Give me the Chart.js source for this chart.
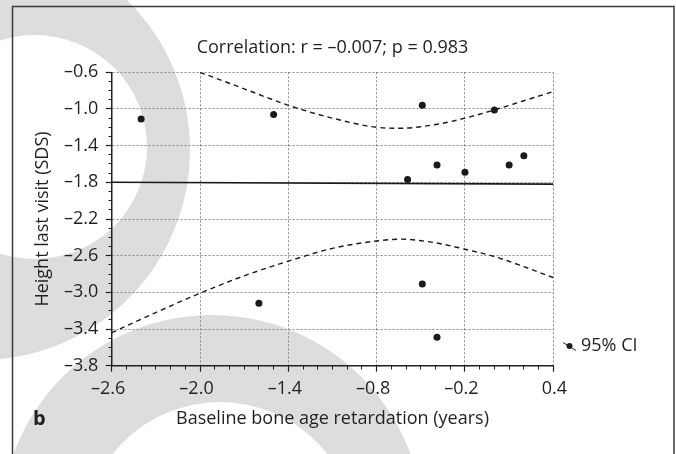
<!DOCTYPE html>
<html>
<head>
<meta charset="utf-8">
<script src="https://cdn.jsdelivr.net/npm/chart.js@4.4.1/dist/chart.umd.min.js"></script>
<style>
  html, body { margin: 0; padding: 0; background: #fff; }
  #wrap { width: 676px; height: 454px; }
</style>
</head>
<body>
<div id="wrap"><canvas id="chart" width="676" height="454"></canvas></div>
<script>
// values
const boneAgeX = [-2.40, -1.50, -1.60, -0.49, -0.49, -0.59, -0.39, -0.39, -0.20, 0.00, 0.10, 0.20];
const heightY  = [-1.11, -1.06, -3.12, -0.96, -2.91, -1.77, -1.61, -3.49, -1.69, -1.01, -1.61, -1.51];

const fitX = [-2.6, 0.4];
const fitY = [-1.80, -1.82];

const upperX = [-2.0, -1.7, -1.4, -1.1, -0.8, -0.64, -0.4, -0.2, 0.0, 0.2, 0.4];
const upperY = [-0.60, -0.78, -0.96, -1.10, -1.20, -1.21, -1.17, -1.10, -1.01, -0.91, -0.81];

const lowerX = [-2.6, -2.3, -2.0, -1.7, -1.4, -1.1, -0.8, -0.64, -0.4, -0.2, 0.0, 0.2, 0.4];
const lowerY = [-3.44, -3.22, -3.01, -2.82, -2.66, -2.52, -2.44, -2.42, -2.46, -2.53, -2.61, -2.72, -2.84];

const xTicks = [-2.6, -2.0, -1.4, -0.8, -0.2, 0.4];
const yTicks = [-3.8, -3.4, -3.0, -2.6, -2.2, -1.8, -1.4, -1.0, -0.6];

const titleText = 'Correlation: r = –0.007; p = 0.983';
const xTitle = 'Baseline bone age retardation (years)';
const yTitle = 'Height last visit (SDS)';
const legendText = '95% CI';
const panelLabel = 'b';

const FONT = '"Open Sans"';
const INK = '#231f20';

function pairs(xs, ys) {
    return xs.map((x, i) => ({ x: x, y: ys[i] }));
}

function fmt(v) {
    return v.toFixed(1).replace('-', '–');
}

// grey print decoration, frame, panel letter and the CI key
const pagePlugin = {
    id: 'page',
    beforeDraw(chart) {
        const ctx = chart.ctx;
        ctx.save();
        ctx.fillStyle = '#fff';
        ctx.fillRect(0, 0, chart.width, chart.height);
        ctx.fillStyle = '#dcdddf';
        ctx.beginPath();
        ctx.arc(-20, 150, 210, 0, Math.PI * 2);
        ctx.arc(35, 147, 112, 0, Math.PI * 2);
        ctx.fill('evenodd');
        ctx.beginPath();
        ctx.arc(212, 526, 211, 0, Math.PI * 2);
        ctx.arc(220, 539, 137, 0, Math.PI * 2);
        ctx.fill('evenodd');
        ctx.restore();
    },
    afterDraw(chart) {
        const ctx = chart.ctx;
        ctx.save();
        ctx.strokeStyle = '#3a3a3a';
        ctx.lineWidth = 1.5;
        ctx.beginPath();
        ctx.moveTo(12.5, 460);
        ctx.lineTo(12.5, 6.5);
        ctx.lineTo(674, 6.5);
        ctx.lineTo(674, 460);
        ctx.stroke();

        ctx.fillStyle = INK;
        ctx.font = 'bold 20px ' + FONT;
        ctx.textBaseline = 'middle';
        ctx.fillText(panelLabel, 33, 419);

        // CI key
        ctx.strokeStyle = INK;
        ctx.lineWidth = 1;
        ctx.beginPath();
        ctx.moveTo(563, 342.5);
        ctx.lineTo(576, 350.5);
        ctx.stroke();
        ctx.beginPath();
        ctx.arc(569.5, 346, 3, 0, Math.PI * 2);
        ctx.fill();
        ctx.font = '18px ' + FONT;
        ctx.fillText(legendText, 581, 346);
        ctx.restore();
    }
};

const gridColor = '#8a8a8a';

new Chart(document.getElementById('chart'), {
    type: 'scatter',
    data: {
        datasets: [
            {
                label: 'Patients',
                data: pairs(boneAgeX, heightY),
                backgroundColor: '#1a1a1a',
                borderWidth: 0,
                pointRadius: 3.5,
                order: 0
            },
            {
                label: 'Regression',
                data: pairs(fitX, fitY),
                showLine: true,
                borderColor: '#1a1a1a',
                borderWidth: 1.6,
                pointRadius: 0,
                order: 1
            },
            {
                label: '95% CI upper',
                data: pairs(upperX, upperY),
                showLine: true,
                borderColor: '#1a1a1a',
                borderWidth: 1.4,
                borderDash: [5, 4],
                cubicInterpolationMode: 'monotone',
                pointRadius: 0,
                order: 2
            },
            {
                label: '95% CI lower',
                data: pairs(lowerX, lowerY),
                showLine: true,
                borderColor: '#1a1a1a',
                borderWidth: 1.4,
                borderDash: [5, 4],
                cubicInterpolationMode: 'monotone',
                pointRadius: 0,
                order: 2
            }
        ]
    },
    options: {
        responsive: false,
        animation: false,
        events: [],
        layout: { padding: { left: 0, right: 122.7, top: 0, bottom: 0 } },
        plugins: {
            legend: { display: false },
            tooltip: { enabled: false },
            title: {
                display: true,
                text: titleText,
                fullSize: false,
                color: INK,
                font: { family: FONT, size: 18, weight: 'normal' },
                padding: { top: 36.7, bottom: 14.0 }
            }
        },
        scales: {
            x: {
                type: 'linear',
                min: -2.6,
                max: 0.4,
                afterBuildTicks: s => { s.ticks = xTicks.map(v => ({ value: v })); },
                afterFit: s => { s.height = 88.3; },
                ticks: {
                    color: INK,
                    font: { family: FONT, size: 18 },
                    padding: 6.5,
                    labelOffset: -3.5,
                    maxRotation: 0,
                    autoSkip: false,
                    // the minus hangs to the left in the print, so only the positive label is nudged back
                    callback: v => (v > 0 ? '  ' : '') + fmt(v)
                },
                grid: {
                    color: gridColor,
                    lineWidth: 1,
                    tickLength: 6,
                    tickColor: INK,
                    tickWidth: 1.2,
                    tickBorderDash: []
                },
                border: { display: true, color: INK, width: 1.5, dash: [2, 2] },
                title: {
                    display: true,
                    text: xTitle,
                    color: INK,
                    font: { family: FONT, size: 18 },
                    padding: { top: 0, bottom: 24.2 }
                }
            },
            y: {
                type: 'linear',
                min: -3.8,
                max: -0.6,
                afterBuildTicks: s => { s.ticks = yTicks.map(v => ({ value: v })); },
                afterFit: s => { s.width = 111.7; },
                ticks: {
                    color: INK,
                    font: { family: FONT, size: 18 },
                    padding: 7.4,
                    autoSkip: false,
                    callback: v => fmt(v)
                },
                grid: {
                    color: gridColor,
                    lineWidth: 1,
                    tickLength: 6,
                    tickColor: INK,
                    tickWidth: 1.2,
                    tickBorderDash: []
                },
                border: { display: true, color: INK, width: 1.5, dash: [2, 2] },
                title: {
                    display: true,
                    text: yTitle,
                    color: INK,
                    font: { family: FONT, size: 18 },
                    padding: { top: 32.2, bottom: 0 }
                }
            },
            xMinor: {
                type: 'linear',
                position: { y: -3.8 },
                min: -2.6,
                max: 0.4,
                ticks: { display: false, stepSize: 0.1, autoSkip: false },
                grid: { drawOnChartArea: false, tickLength: 3.5, tickColor: INK, tickWidth: 1 },
                border: { display: false }
            },
            yMinor: {
                type: 'linear',
                position: { x: -2.6 },
                min: -3.8,
                max: -0.6,
                ticks: { display: false, stepSize: 0.1, autoSkip: false },
                grid: { drawOnChartArea: false, tickLength: 3.5, tickColor: INK, tickWidth: 1 },
                border: { display: false }
            }
        }
    },
    plugins: [pagePlugin]
});
</script>
</body>
</html>
